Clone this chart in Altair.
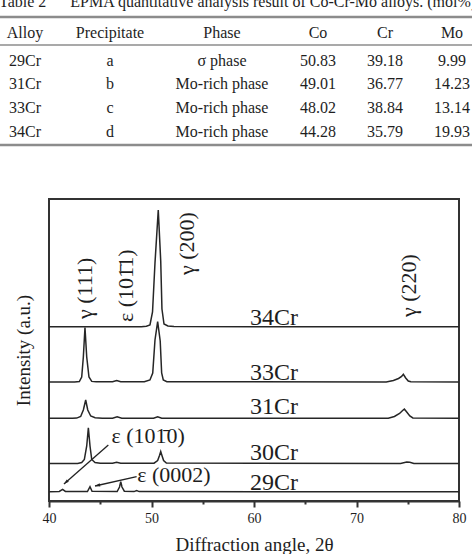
import altair as alt
import pandas as pd

FONT = "Liberation Serif"
INK = "#1e1e1e"
FRAME = "#333333"

# ---------------- Table 2 : EPMA quantitative analysis (mol%) ----------------
table_title = "Table 2\u2003\u2002EPMA quantitative analysis result of Co-Cr-Mo alloys. (mol%)"
headers = ["Alloy", "Precipitate", "Phase", "Co", "Cr", "Mo"]
alloys = ["29Cr", "31Cr", "33Cr", "34Cr"]
precipitates = ["a", "b", "c", "d"]
phases = ["\u03c3 phase", "Mo-rich phase", "Mo-rich phase", "Mo-rich phase"]
co = [50.83, 49.01, 48.02, 44.28]
cr = [39.18, 36.77, 38.84, 35.79]
mo = [9.99, 14.23, 13.14, 19.93]

# ---------------- XRD patterns: 2θ (deg) and stacked intensity (a.u.) ----------------
theta_34 = [40.0, 49.0, 49.5, 49.85, 50.1, 50.34, 50.66, 50.9, 51.02, 51.22, 51.6, 52.2, 80.0]
inten_34 = [174.3, 174.3, 174.8, 176.0, 189.0, 238.0, 291.0, 240.0, 192.0, 177.0, 175.0, 174.4, 174.3]

theta_33 = [40.0, 42.5, 42.96, 43.19, 43.35, 43.51, 43.68, 43.9, 44.17, 44.6,
            46.2, 46.6, 47.0,
            49.3, 49.85, 50.12, 50.34, 50.6, 50.85, 50.99, 51.15, 51.5,
            72.9, 73.6, 74.1, 74.4, 74.57, 74.8, 75.05, 75.3, 80.0]
inten_33 = [119.0, 119.0, 119.4, 124.0, 144.0, 173.5, 144.0, 124.0, 119.6, 119.2,
            119.2, 120.5, 119.2,
            119.2, 121.0, 128.0, 161.0, 179.3, 160.0, 128.0, 121.0, 119.3,
            119.0, 120.5, 122.5, 124.5, 126.7, 123.0, 120.0, 119.2, 119.0]

theta_31 = [40.0, 42.3, 42.7, 43.09, 43.35, 43.58, 43.78, 44.07, 44.5, 45.2,
            46.2, 46.65, 47.1,
            50.2, 50.6, 51.0,
            73.1, 73.7, 74.2, 74.5, 74.67, 74.9, 75.2, 75.5, 80.0]
inten_31 = [82.7, 82.7, 82.9, 84.5, 91.0, 101.0, 91.0, 85.0, 83.2, 82.8,
            82.8, 84.2, 82.8,
            82.8, 84.3, 82.8,
            82.8, 84.5, 87.5, 90.5, 92.0, 89.0, 85.0, 83.0, 82.7]

theta_30 = [40.0, 42.8, 43.19, 43.45, 43.68, 43.84, 44.0, 44.17, 44.49, 45.0,
            46.2, 46.6, 47.0,
            50.25, 50.6, 50.78, 50.9, 51.02, 51.18, 51.45,
            74.3, 74.9, 75.2, 75.6, 80.0]
inten_30 = [37.5, 37.6, 38.5, 41.5, 55.0, 73.3, 55.0, 41.5, 38.5, 37.7,
            37.7, 38.8, 37.7,
            37.8, 40.5, 45.5, 49.5, 45.5, 40.5, 38.0,
            37.6, 38.9, 38.8, 37.6, 37.5]

theta_29 = [40.0, 41.0, 41.33, 41.6, 43.75, 44.0, 44.2, 46.65, 46.88, 47.0,
            47.12, 47.35, 48.3, 48.55, 48.8, 80.0]
inten_29 = [9.3, 9.5, 11.7, 9.6, 9.5, 14.3, 9.8, 9.5, 14.0, 19.3,
            14.0, 9.8, 9.4, 10.4, 9.4, 9.3]

series = {
    "34Cr": (theta_34, inten_34),
    "33Cr": (theta_33, inten_33),
    "31Cr": (theta_31, inten_31),
    "30Cr": (theta_30, inten_30),
    "29Cr": (theta_29, inten_29),
}

# curve labels and peak indexing (positions in 2θ / a.u.)
alloy_names = ["34Cr", "33Cr", "31Cr", "30Cr", "29Cr"]
alloy_theta = [59.6, 59.6, 59.6, 59.6, 59.6]
alloy_inten = [176, 121, 87, 41, 11]

peak_names = ["\u03b3 (111)", "\u03b5 (101\u03041)", "\u03b3 (200)", "\u03b3 (220)"]
peak_theta = [43.55, 47.5, 53.5, 75.15]
peak_inten = [182, 179, 226, 184]

eps_names = ["\u03b5 (101\u03040)", "\u03b5 (0002)"]
eps_theta = [46.1, 48.6]
eps_inten = [58, 19]

arrow_theta0 = [45.79, 48.55]
arrow_inten0 = [56.0, 24.3]
arrow_theta1 = [41.46, 44.49]
arrow_inten1 = [17.0, 15.0]
arrow_angle = [228.6, 257.4]

# ---------------- frames ----------------
xrd_df = pd.DataFrame(
    [{"alloy": k, "theta": t, "intensity": v}
     for k, (ts, vs) in series.items() for t, v in zip(ts, vs)]
)
alloy_df = pd.DataFrame({"label": alloy_names, "theta": alloy_theta, "intensity": alloy_inten})
peak_df = pd.DataFrame({"label": peak_names, "theta": peak_theta, "intensity": peak_inten})
eps_df = pd.DataFrame({"label": eps_names, "theta": eps_theta, "intensity": eps_inten})
arrow_df = pd.DataFrame({
    "t0": arrow_theta0, "i0": arrow_inten0,
    "t1": arrow_theta1, "i1": arrow_inten1, "angle": arrow_angle,
})

cells = [{"col": c, "row": 0, "text": h} for c, h in enumerate(headers)]
for r, row in enumerate(zip(alloys, precipitates, phases, co, cr, mo), start=1):
    for c, v in enumerate(row):
        cells.append({"col": c, "row": r, "text": f"{v:.2f}" if isinstance(v, float) else v})
table_df = pd.DataFrame(cells)

# ---------------- XRD panel ----------------
x_scale = alt.Scale(domain=[40, 80], nice=False, zero=False)
y_scale = alt.Scale(domain=[0, 302], nice=False, zero=False)

x_axis = alt.Axis(
    title="Diffraction angle, 2\u03b8",
    values=list(range(40, 81, 5)),
    labelExpr="datum.value % 10 === 0 ? datum.label : ''",
    tickSize={"condition": {"test": "datum.value % 10 === 0", "value": 6}, "value": 3},
    tickWidth=2, tickColor=FRAME,
    domainColor=FRAME, domainWidth=2,
    labelFont=FONT, labelFontSize=14, labelColor=INK, labelPadding=4,
    labelFlush=False, labelOverlap=False,
    titleFont=FONT, titleFontSize=19, titleFontWeight="normal", titleColor=INK,
    titlePadding=10, grid=False,
)
y_axis = alt.Axis(
    title="Intensity (a.u.)", labels=False, ticks=False, domain=False, grid=False,
    titleFont=FONT, titleFontSize=19, titleFontWeight="normal", titleColor=INK,
    titlePadding=16,
)

X = alt.X("theta:Q", scale=x_scale, axis=x_axis)
Y = alt.Y("intensity:Q", scale=y_scale, axis=y_axis)

curves = alt.Chart(xrd_df).mark_line(color="#262626", strokeWidth=1.5).encode(
    x=X, y=Y, detail="alloy:N"
)
alloy_text = alt.Chart(alloy_df).mark_text(
    font=FONT, fontSize=24, color=INK, align="left", baseline="alphabetic"
).encode(x="theta:Q", y="intensity:Q", text="label:N")
peak_text = alt.Chart(peak_df).mark_text(
    font=FONT, fontSize=22, color=INK, align="left", baseline="middle", angle=270
).encode(x="theta:Q", y="intensity:Q", text="label:N")
eps_text = alt.Chart(eps_df).mark_text(
    font=FONT, fontSize=22, color=INK, align="left", baseline="alphabetic"
).encode(x="theta:Q", y="intensity:Q", text="label:N")
arrow_shaft = alt.Chart(arrow_df).mark_rule(color="#222", strokeWidth=1.3).encode(
    x="t0:Q", y="i0:Q", x2="t1:Q", y2="i1:Q"
)
arrow_head = alt.Chart(arrow_df).mark_point(
    shape="M0,0L0.38,1.2L-0.38,1.2Z", filled=True, color="#222", size=72, opacity=1
).encode(x="t1:Q", y="i1:Q", angle=alt.Angle("angle:Q", scale=None))

xrd = alt.layer(curves, alloy_text, peak_text, eps_text, arrow_shaft, arrow_head)

# ---------------- table panel (drawn above the plot frame) ----------------
col_scale = alt.Scale(domain=[0, 1, 2, 3, 4, 5], range=[-24, 61, 173, 269, 336, 403])
row_scale = alt.Scale(domain=[0, 1, 4], range=[-161.5, -133.3, -62.3])

one = alt.Data(values=[{}])
table_cells = alt.Chart(table_df).mark_text(
    font=FONT, fontSize=16, color=INK, align="center", baseline="alphabetic"
).encode(
    x=alt.X("col:Q", scale=col_scale, axis=None),
    y=alt.Y("row:Q", scale=row_scale, axis=None),
    text="text:N",
)
title_text = alt.Chart(one).mark_text(
    font=FONT, fontSize=16, color=INK, align="left", baseline="alphabetic"
).encode(x=alt.value(-50), y=alt.value(-192.5), text=alt.value(table_title))
rule_top = alt.Chart(one).mark_rule(color="#8c8c8c", strokeWidth=2.5).encode(
    x=alt.value(-49), x2=alt.value(423), y=alt.value(-182))
rule_mid = alt.Chart(one).mark_rule(color="#555555", strokeWidth=1.1).encode(
    x=alt.value(-49), x2=alt.value(423), y=alt.value(-154))
rule_bot = alt.Chart(one).mark_rule(color="#8c8c8c", strokeWidth=2.5).encode(
    x=alt.value(-49), x2=alt.value(423), y=alt.value(-54))

table = alt.layer(table_cells, title_text, rule_top, rule_mid, rule_bot)

chart = (
    alt.layer(xrd, table)
    .resolve_scale(x="independent", y="independent")
    .properties(
        width=410, height=302,
        autosize=alt.AutoSizeParams(type="none"),
        padding={"left": 49, "top": 199, "right": 13, "bottom": 53},
        background="white",
    )
    .configure_view(stroke=FRAME, strokeWidth=2)
)

chart.save("out.html", embed_options={"renderer": "svg", "actions": False})
